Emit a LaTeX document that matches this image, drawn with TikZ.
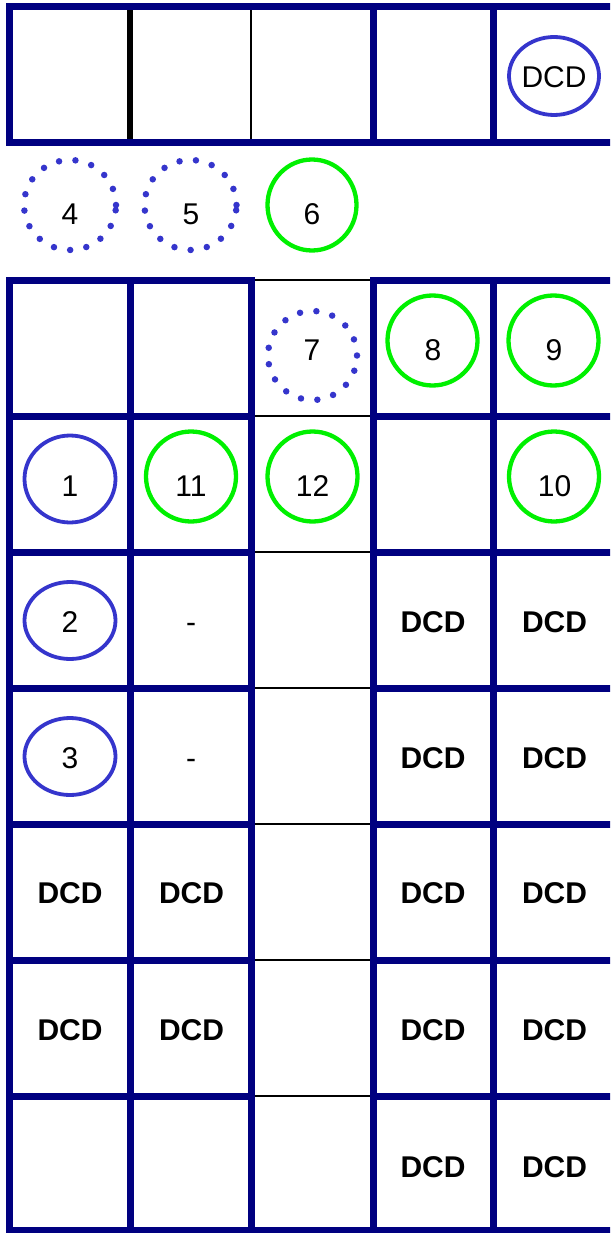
\documentclass[tikz,border=0pt]{standalone}
\usepackage{fontspec}
\setmainfont{Liberation Sans}
\usetikzlibrary{shapes.geometric}
\definecolor{gridnavy}{HTML}{000080}
\definecolor{ringblue}{HTML}{3535CC}
\definecolor{ringgreen}{HTML}{00F000}
\tikzset{
  navyline/.style={draw=gridnavy, line width=7pt, line cap=rect},
  thickblack/.style={draw=black, line width=6pt},
  thinblack/.style={draw=black, line width=1.2pt},
  ring/.style={ellipse, inner sep=0pt, line width=3.8pt},
  bluering/.style={ring, draw=ringblue},
  greenring/.style={ring, draw=ringgreen, line width=4.3pt},
  dotring/.style={ring, draw=ringblue, line width=6.5pt, line cap=round, dash pattern=on 0pt off 16.5pt},
  lbl/.style={anchor=base, inner sep=0pt, font=\fontsize{30}{36}\selectfont},
  boldlbl/.style={lbl, font=\fontsize{30}{36}\selectfont\bfseries},
}
\begin{document}
\begin{tikzpicture}[x=1pt,y=-1pt]
\useasboundingbox (0,0) rectangle (610,1233);
\clip (0,0) rectangle (610,1233);
% ---------- top row ----------
\draw[thickblack] (130,7) -- (130,143);
\draw[thinblack] (251,7) -- (251,143);
\draw[navyline] (9,7) -- (9,143);
\draw[navyline] (373,7) -- (373,143);
\draw[navyline] (493,7) -- (493,143);
\draw[navyline] (9,7) -- (625,7);
\draw[navyline] (9,143) -- (625,143);
% ---------- lower grid ----------
\foreach \y in {280,416,552,688,824,960,1096}{
  \draw[thinblack] (251,\y) -- (373,\y);
  \draw[navyline] (9,\y) -- (251,\y);
  \draw[navyline] (373,\y) -- (625,\y);
}
\foreach \x in {9,130,251,373,493}{
  \draw[navyline] (\x,280) -- (\x,1230);
}
\draw[navyline] (9,1230) -- (625,1230);
% ---------- rings ----------
\node[bluering, minimum width=90pt, minimum height=78pt] (cdcd) at (554,76) {};
\node[dotring, minimum width=92pt, minimum height=90pt] (c4) at (70,205) {};
\node[dotring, minimum width=92pt, minimum height=90pt] (c5) at (190.5,205) {};
\node[greenring, minimum width=89pt, minimum height=91pt] (c6) at (312,205) {};
\node[dotring, minimum width=89pt, minimum height=89pt] (c7) at (312.5,355.5) {};
\node[greenring, minimum width=90pt, minimum height=90pt] (c8) at (432.5,340.5) {};
\node[greenring, minimum width=90pt, minimum height=90pt] (c9) at (553.5,340.5) {};
\node[bluering, minimum width=91pt, minimum height=87pt] (c1) at (70,479) {};
\node[greenring, minimum width=90pt, minimum height=90pt] (c11) at (191,476.5) {};
\node[greenring, minimum width=90pt, minimum height=90pt] (c12) at (312.5,476.5) {};
\node[greenring, minimum width=90pt, minimum height=90pt] (c10) at (554,476.5) {};
\node[bluering, minimum width=91pt, minimum height=77pt] (c2) at (70,620.5) {};
\node[bluering, minimum width=91pt, minimum height=77pt] (c3) at (70,756.5) {};
% ---------- labels ----------
\node[lbl] (tdcd) at (554,88) {DCD};
\node[lbl] (t4) at (70,225) {4};
\node[lbl] (t5) at (191,225) {5};
\node[lbl] (t6) at (312,225) {6};
\node[lbl] (t7) at (312,360) {7};
\node[lbl] (t8) at (433,360) {8};
\node[lbl] (t9) at (554,360) {9};
\node[lbl] (t1) at (70,496) {1};
\node[lbl] (t11) at (191,496) {11};
\node[lbl] (t12) at (312.5,496) {12};
\node[lbl] (t10) at (554.5,496) {10};
\node[lbl] (t2) at (70,632) {2};
\node[lbl] (t3) at (70,768) {3};
\node[lbl] (d1) at (191,632) {-};
\node[lbl] (d2) at (191,768) {-};
\node[boldlbl] (b1) at (433,632) {DCD};
\node[boldlbl] (b2) at (554.5,632) {DCD};
\node[boldlbl] (b3) at (433,768) {DCD};
\node[boldlbl] (b4) at (554.5,768) {DCD};
\node[boldlbl] (b5) at (70,903) {DCD};
\node[boldlbl] (b6) at (191.5,903) {DCD};
\node[boldlbl] (b7) at (433,903) {DCD};
\node[boldlbl] (b8) at (554.5,903) {DCD};
\node[boldlbl] (b9) at (70,1040) {DCD};
\node[boldlbl] (b10) at (191.5,1040) {DCD};
\node[boldlbl] (b11) at (433,1040) {DCD};
\node[boldlbl] (b12) at (554.5,1040) {DCD};
\node[boldlbl] (b13) at (433,1177) {DCD};
\node[boldlbl] (b14) at (554.5,1177) {DCD};
\end{tikzpicture}
\end{document}
